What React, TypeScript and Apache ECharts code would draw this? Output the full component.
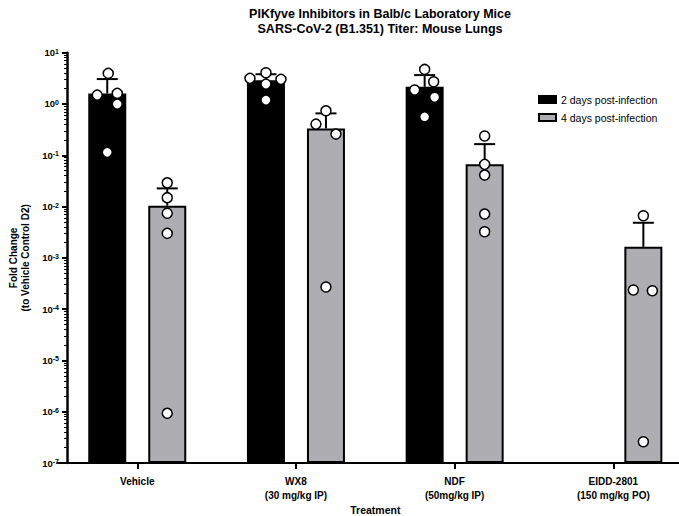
import React, { useEffect, useRef } from "react";
import * as echarts from "echarts";

// ---- data ----
const categories = ["Vehicle", "WX8\n(30 mg/kg IP)", "NDF\n(50mg/kg IP)", "EIDD-2801\n(150 mg/kg PO)"];
const seriesNames = ["2 days post-infection", "4 days post-infection"];
const meanDay2 = [1.61, 2.9, 2.16, null];
const meanDay4 = [0.0104, 0.334, 0.067, 0.00164];
const errTopDay2 = [3.06, 3.8, 3.66, null];
const errTopDay4 = [0.0226, 0.656, 0.165, 0.00483];
// individual animals
const pointsDay2 = [
  [3.95, 1.49, 1.61, 0.995, 0.114],
  [3.16, 4.06, 3.02, 2.44, 1.19],
  [4.72, 2.71, 1.87, 1.35, 0.562],
  [],
];
const pointsDay4 = [
  [0.029, 0.0149, 0.0074, 0.003, 9.3e-7],
  [0.736, 0.405, 0.259, 2.7e-4],
  [0.237, 0.0665, 0.0411, 0.00714, 0.00323],
  [0.00662, 2.36e-4, 2.28e-4, 2.6e-7],
];
const yTickExponents = [-7, -6, -5, -4, -3, -2, -1, 0, 1];

// ---- layout / style constants (not data) ----
const JITTER_DAY2 = [
  [1, -10, 10, 10, 0],
  [-16, 0, 15, 0, 0],
  [0, 9, -10, 10, 0],
  [],
];
const JITTER_DAY4 = [
  [0, 0, 0, 0, 0],
  [0, -10, 10, 0],
  [0, 0, 0, 0, 0],
  [0, -10, 9, 0],
];
const FONT = "'Liberation Sans', Arial, Helvetica, sans-serif";
const BAR_W = 38;
const BAR_BORDER = 2;
const GAP_PX = 22;
const HALF = (BAR_W + GAP_PX) / 2; // bar centre offset from category centre
const GRAY = "#aeaeb2";

export default function App() {
  const ref = useRef<HTMLDivElement>(null);
  useEffect(() => {
    if (!ref.current) return;
    const chart = echarts.init(ref.current, undefined, { renderer: "svg" });

    const scatterData = (pts: number[][], jit: number[][], side: number) => {
      const out: any[] = [];
      pts.forEach((arr, ci) => {
        arr.forEach((v, k) => {
          out.push({ value: [ci, v], symbolOffset: [side * HALF + jit[ci][k], 0] });
        });
      });
      return out;
    };

    const errData = (means: (number | null)[], tops: (number | null)[]) =>
      means
        .map((m, i) => (m == null || tops[i] == null ? null : [i, m, tops[i]]))
        .filter((d) => d != null);

    const errSeries = (name: string, means: any[], tops: any[], side: number) => ({
      type: "custom",
      name,
      z: 3,
      encode: { x: 0, y: 1 },
      data: errData(means, tops),
      renderItem: (params: any, api: any) => {
        const c = api.value(0);
        const p0 = api.coord([c, api.value(1)]);
        const p1 = api.coord([c, api.value(2)]);
        const x = p0[0] + side * HALF;
        const st = { stroke: "#000", lineWidth: 2 };
        return {
          type: "group",
          children: [
            { type: "line", shape: { x1: x, y1: p0[1], x2: x, y2: p1[1] }, style: st },
            { type: "line", shape: { x1: x - 10.5, y1: p1[1], x2: x + 10.5, y2: p1[1] }, style: st },
          ],
        };
      },
    });

    const option: any = {
      animation: false,
      backgroundColor: "#fff",
      textStyle: { fontFamily: FONT },
      title: {
        text: "PIKfyve Inhibitors in Balb/c Laboratory Mice\nSARS-CoV-2 (B1.351) Titer: Mouse Lungs",
        left: 375,
        top: 1.5,
        textAlign: "center",
        textStyle: { fontFamily: FONT, fontSize: 12.5, fontWeight: "bold", color: "#000", lineHeight: 15 },
      },
      legend: {
        data: seriesNames,
        orient: "vertical",
        left: 538,
        top: 94,
        padding: 0,
        itemWidth: 17,
        itemHeight: 7,
        itemGap: 7,
        icon: "rect",
        textStyle: { fontFamily: FONT, fontSize: 10.5, color: "#000" },
      },
      grid: { left: 57.9, right: -13.7, top: 52.7, bottom: 53, outerBoundsMode: "none", containLabel: false },
      xAxis: {
        type: "category",
        data: categories,
        name: "Treatment",
        nameLocation: "middle",
        nameGap: 41,
        nameMoveOverlap: false,
        nameTextStyle: { fontFamily: FONT, fontSize: 10.5, fontWeight: "bold", color: "#000" },
        axisLine: { lineStyle: { color: "#000", width: 2 } },
        axisTick: { show: true, alignWithLabel: true, length: 6, lineStyle: { color: "#000", width: 2 } },
        axisLabel: {
          margin: 12,
          fontFamily: FONT,
          fontSize: 10,
          fontWeight: "bold",
          color: "#000",
          lineHeight: 13.7,
          interval: 0,
        },
      },
      yAxis: {
        type: "log",
        min: Math.pow(10, yTickExponents[0]),
        max: Math.pow(10, yTickExponents[yTickExponents.length - 1]),
        startValue: Math.pow(10, yTickExponents[0]),
        offset: -9.1,
        name: "Fold Change\n(to Vehicle Control D2)",
        nameLocation: "middle",
        nameGap: 30,
        nameTextStyle: { fontFamily: FONT, fontSize: 10, fontWeight: "bold", color: "#000", lineHeight: 12 },
        axisLine: { show: true, lineStyle: { color: "#000", width: 2.5 } },
        axisTick: { show: true, length: 5, lineStyle: { color: "#000", width: 2 } },
        minorTick: { show: true, splitNumber: 9, length: 3, lineStyle: { color: "#000", width: 1 } },
        splitLine: { show: false },
        axisLabel: {
          margin: 8,
          formatter: (v: number) => `{b|10}{s|${Math.round(Math.log10(v))}}`,
          rich: {
            b: { fontFamily: FONT, fontSize: 9.5, fontWeight: "bold", color: "#000" },
            s: { fontFamily: FONT, fontSize: 7, fontWeight: "bold", color: "#000", verticalAlign: "top" },
          },
        },
      },
      series: [
        {
          type: "bar",
          name: seriesNames[0],
          data: meanDay2,
          barWidth: BAR_W,
          barGap: `${(GAP_PX / BAR_W) * 100}%`,
          itemStyle: { color: "#000", borderColor: "#000", borderWidth: BAR_BORDER },
          z: 2,
        },
        {
          type: "bar",
          name: seriesNames[1],
          data: meanDay4,
          barWidth: BAR_W,
          barGap: `${(GAP_PX / BAR_W) * 100}%`,
          itemStyle: { color: GRAY, borderColor: "#000", borderWidth: BAR_BORDER },
          z: 2,
        },
        errSeries("err2", meanDay2, errTopDay2, -1),
        errSeries("err4", meanDay4, errTopDay4, 1),
        {
          type: "scatter",
          name: "pts2",
          symbol: "circle",
          symbolSize: 10,
          z: 4,
          itemStyle: { color: "#fff", borderColor: "#000", borderWidth: 1.5, opacity: 1 },
          data: scatterData(pointsDay2, JITTER_DAY2, -1),
        },
        {
          type: "scatter",
          name: "pts4",
          symbol: "circle",
          symbolSize: 10,
          z: 4,
          itemStyle: { color: "#fff", borderColor: "#000", borderWidth: 1.5, opacity: 1 },
          data: scatterData(pointsDay4, JITTER_DAY4, 1),
        },
      ],
    };
    chart.setOption(option);
    return () => chart.dispose();
  }, []);
  return (
    <div
      ref={ref}
      style={{ position: "absolute", left: 0, top: 0, width: 679, height: 516, background: "#fff" }}
    />
  );
}
